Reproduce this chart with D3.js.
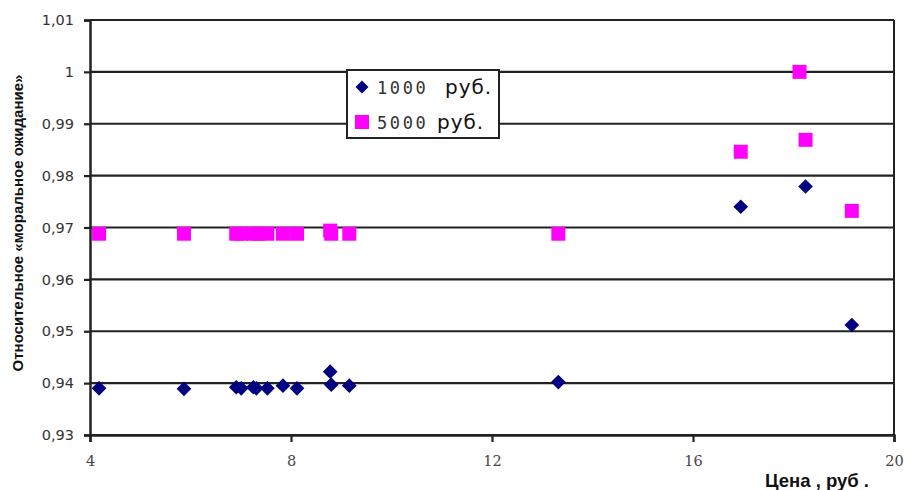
<!DOCTYPE html>
<html><head><meta charset="utf-8">
<script src="https://cdn.jsdelivr.net/npm/d3@7"></script>
<style>body{margin:0;background:#fff}svg{display:block}</style>
</head><body>
<svg id="c" width="909" height="490"></svg>
<script>
const xTicks = [4, 8, 12, 16, 20];
const yTicks = [0.93, 0.94, 0.95, 0.96, 0.97, 0.98, 0.99, 1.0, 1.01];
const yTickLabels = ["0,93","0,94","0,95","0,96","0,97","0,98","0,99","1","1,01"];
const x1000 = [4.18, 5.87, 6.91, 7.01, 7.25, 7.31, 7.53, 7.84, 8.12, 8.78, 8.80, 9.16, 13.32, 16.95, 18.24, 19.16];
const y1000 = [0.9390, 0.9389, 0.9392, 0.9390, 0.9392, 0.9390, 0.9390, 0.9395, 0.9390, 0.9422, 0.9397, 0.9395, 0.9402, 0.9740, 0.9779, 0.9512];
const x5000 = [4.18, 5.87, 6.91, 7.01, 7.25, 7.35, 7.53, 7.84, 8.12, 8.78, 8.80, 9.16, 13.32, 16.95, 18.12, 18.24, 19.16];
const y5000 = [0.9688, 0.9688, 0.9688, 0.9688, 0.9688, 0.9688, 0.9688, 0.9688, 0.9688, 0.9694, 0.9688, 0.9688, 0.9688, 0.9846, 1.0000, 0.9869, 0.9732];
const legendLabels = [["1000", "руб."], ["5000", "руб."]];

const svg = d3.select("#c");
const L = 90, R = 894, T = 20, B = 435;
const x = d3.scaleLinear().domain([4, 20]).range([L, R]);
const y = d3.scaleLinear().domain([0.93, 1.01]).range([B, T]);

// gridlines
svg.append("g").selectAll("line").data(yTicks).join("line")
  .attr("x1", L).attr("x2", R)
  .attr("y1", d => y(d)).attr("y2", d => y(d))
  .attr("stroke", "#222").attr("stroke-width", 2.2);
// right border
svg.append("line").attr("x1", R).attr("x2", R).attr("y1", T).attr("y2", B)
  .attr("stroke", "#222").attr("stroke-width", 2);

// y axis
const yAxis = d3.axisLeft(y).tickValues(yTicks).tickSize(6)
  .tickFormat((d, i) => yTickLabels[i]);
const gy = svg.append("g").attr("transform", `translate(${L},0)`).call(yAxis);
gy.select(".domain").attr("stroke", "#222").attr("stroke-width", 2.5);
gy.selectAll(".tick line").attr("stroke", "#222").attr("stroke-width", 2.2);
gy.selectAll(".tick text").attr("x", -16).attr("fill", "#333")
  .style("font-family", "DejaVu Sans").style("font-size", "14.5px");

// x axis
const xAxis = d3.axisBottom(x).tickValues(xTicks).tickSize(7).tickFormat(d3.format("d"));
const gx = svg.append("g").attr("transform", `translate(0,${B})`).call(xAxis);
gx.select(".domain").attr("stroke", "#222").attr("stroke-width", 2.5);
gx.selectAll(".tick line").attr("stroke", "#222").attr("stroke-width", 2.2);
gx.selectAll(".tick text").attr("y", 21).attr("fill", "#444")
  .style("font-family", "DejaVu Serif").style("font-size", "14.5px");

// points
svg.append("g").selectAll("rect").data(x5000.map((v, i) => [v, y5000[i]])).join("rect")
  .attr("x", d => x(d[0]) - 7).attr("y", d => y(d[1]) - 7)
  .attr("width", 14).attr("height", 14).attr("fill", "#ff00ff");
svg.append("g").selectAll("path").data(x1000.map((v, i) => [v, y1000[i]])).join("path")
  .attr("d", d3.symbol().type(d3.symbolSquare).size(108))
  .attr("transform", d => `translate(${x(d[0])},${y(d[1])}) rotate(45)`)
  .attr("fill", "#000080");

// legend
const lg = svg.append("g");
lg.append("rect").attr("x", 347).attr("y", 70).attr("width", 152).attr("height", 68)
  .attr("fill", "#fff").attr("stroke", "#222").attr("stroke-width", 2);
lg.append("path").attr("d", d3.symbol().type(d3.symbolSquare).size(85))
  .attr("transform", "translate(362,87) rotate(45)").attr("fill", "#000080");
lg.append("rect").attr("x", 355).attr("y", 115).attr("width", 14).attr("height", 14).attr("fill", "#ff00ff");
const rowsY = [94, 129];
const ruX = [445, 437];
legendLabels.forEach((lab, i) => {
  lg.append("text").attr("x", 377).attr("y", rowsY[i]).text(lab[0])
    .attr("fill", "#333").style("font-family", "DejaVu Sans Mono").style("font-size", "17px")
    .style("letter-spacing", "2.6px");
  lg.append("text").attr("x", ruX[i]).attr("y", rowsY[i]).text(lab[1])
    .attr("fill", "#111").style("font-family", "DejaVu Sans").style("font-size", "20px")
    .style("letter-spacing", "1px");
});

// axis titles
svg.append("text").attr("transform", "translate(23,223) rotate(-90)")
  .attr("text-anchor", "middle").text("Относительное «моральное ожидание»")
  .style("font-family", "Liberation Sans").style("font-weight", "bold").style("font-size", "15px").attr("fill", "#111");
svg.append("text").attr("x", 765).attr("y", 487).text("Цена , руб .")
  .style("font-family", "Liberation Sans").style("font-weight", "bold").style("font-size", "18.5px").attr("fill", "#111");
</script>
</body></html>
